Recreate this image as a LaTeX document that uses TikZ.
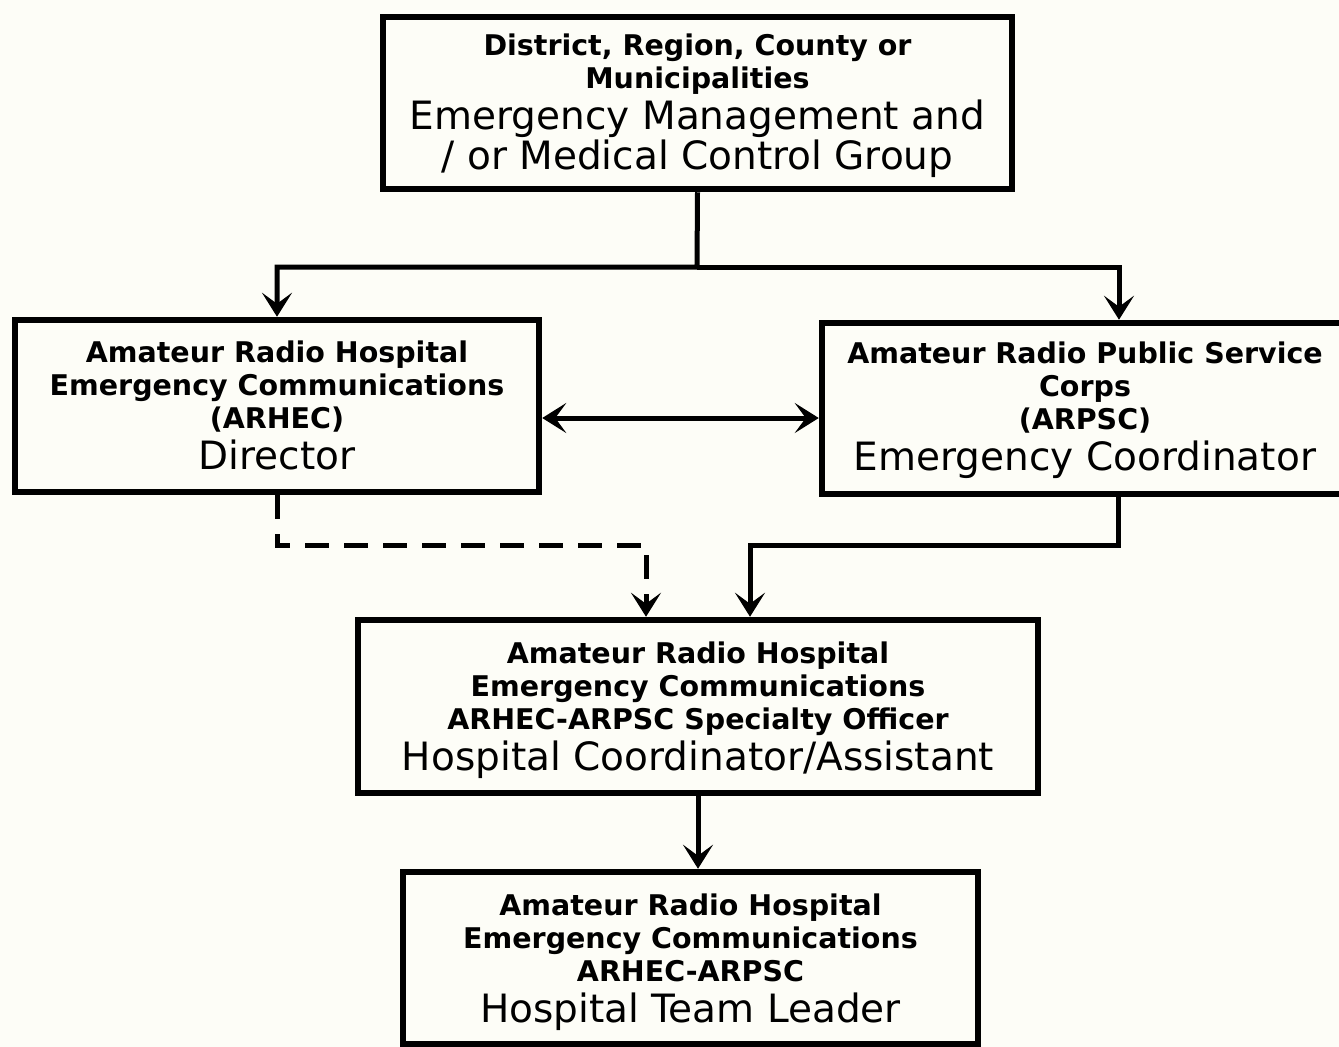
\documentclass[tikz,border=0pt]{standalone}
\usepackage{fontspec}
\setmainfont{DejaVu Sans}
\usetikzlibrary{arrows.meta}

\definecolor{paper}{RGB}{253,253,247}
\newcommand{\bigtxt}{\fontsize{39}{41}\mdseries\selectfont}
\newcommand{\boxfont}{\fontsize{28.5}{33}\bfseries\selectfont\lineskiplimit=-100pt\relax}

\begin{document}
\begin{tikzpicture}[x=1pt,y=-1pt,
    box/.style={draw,line width=6.5pt,inner sep=0pt,align=center,text depth=2pt,font=\boxfont},
    link/.style={line width=5pt,-{Stealth[length=24pt,width=30pt,inset=11pt]}},
    both/.style={line width=5pt,{Stealth[length=24pt,width=30pt,inset=11pt]}-{Stealth[length=24pt,width=30pt,inset=11pt]}},
    dashlink/.style={link,dash pattern=on 24pt off 15pt}]
            \fill[paper] (0,0) rectangle (1339,1047);
            \useasboundingbox (0,0) rectangle (1339,1047);
            \clip (0,0) rectangle (1339,1047);

            % Top node
            \node[box,minimum width=629pt,minimum height=172pt] (ema) at (697.5,103)
              {District, Region, County or\\Municipalities\\[8pt]
               \bigtxt Emergency Management and\\[7pt]\bigtxt / or Medical Control Group};

            % Second stage nodes
            \node[box,minimum width=524pt,minimum height=172pt] (arhec) at (277,406)
              {Amateur Radio Hospital\\Emergency Communications\\(ARHEC)\\[8pt]\bigtxt Director};
            \node[box,minimum width=526pt,minimum height=171pt,text depth=5pt] (arpsc) at (1085,408.5)
              {Amateur Radio Public Service\\Corps\\(ARPSC)\\[8pt]\bigtxt Emergency Coordinator};

            \coordinate (split) at (697,267);
            \draw[link] (ema.south) -- (split) -| (arhec.north);
            \draw[link] (split) -| ([xshift=34pt]arpsc.north);
            \draw[both] (arhec.east |- 0,418) -- (arpsc.west |- 0,418);

            % Third stage node
            \node[box,minimum width=680pt,minimum height=173pt,text depth=0pt] (hc) at (698,706.5)
              {Amateur Radio Hospital\\Emergency Communications\\ARHEC-ARPSC Specialty Officer\\[8pt]
               \bigtxt Hospital Coordinator/Assistant};

            \coordinate (dknee) at (646,545);
            \coordinate (sknee) at (750,545);
            \draw[dashlink] (arhec.south) |- (dknee) -- (dknee |- hc.north);
            \draw[link] ([xshift=33pt]arpsc.south) |- (sknee) -- (sknee |- hc.north);

            % Fourth stage node
            \node[box,minimum width=575pt,minimum height=172pt,text depth=0pt] (htl) at (690.5,958)
              {Amateur Radio Hospital\\Emergency Communications\\ARHEC-ARPSC\\[8pt]\bigtxt Hospital Team Leader};
            \draw[link] (hc.south) -- (hc.south |- htl.north);
        \end{tikzpicture}
\end{document}
